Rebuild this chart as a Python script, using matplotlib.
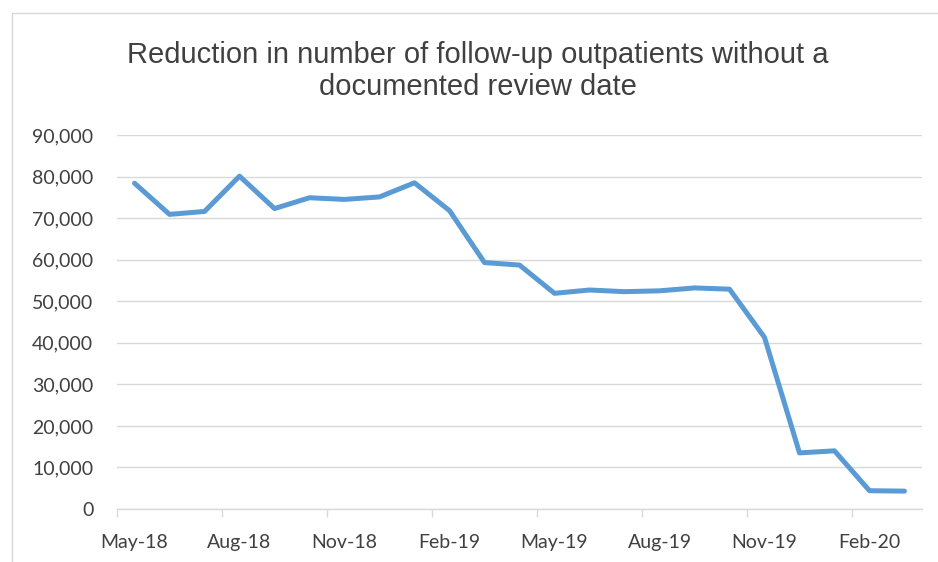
import matplotlib.pyplot as plt
from matplotlib.patches import Rectangle
from matplotlib.ticker import FuncFormatter

months = ['May-18', 'Jun-18', 'Jul-18', 'Aug-18', 'Sep-18', 'Oct-18', 'Nov-18', 'Dec-18',
          'Jan-19', 'Feb-19', 'Mar-19', 'Apr-19', 'May-19', 'Jun-19', 'Jul-19', 'Aug-19',
          'Sep-19', 'Oct-19', 'Nov-19', 'Dec-19', 'Jan-20', 'Feb-20', 'Mar-20']
patients = [78400, 70900, 71600, 80100, 72300, 74900, 74500, 75100,
            78500, 71800, 59300, 58700, 51900, 52700, 52300, 52500,
            53200, 52900, 41300, 13500, 14000, 4400, 4300]
title = 'Reduction in number of follow-up outpatients without a\ndocumented review date'

grid_col = '#D9D9D9'
text_col = '#404040'
tick_font = 'Lato'

fig = plt.figure(figsize=(9.38, 5.62), dpi=100)
# chart area border
fig.patches.append(Rectangle((12 / 938, -0.1), 1.2, 1 - 13 / 562 + 0.1,
                             transform=fig.transFigure, fill=False,
                             edgecolor=grid_col, linewidth=1))

ax = fig.add_axes([117 / 938, 1 - 509 / 562, (922 - 117) / 938, (509 - 135) / 562])
x = list(range(len(months)))
ax.plot(x, patients, color='#5B9BD5', linewidth=3.6, solid_capstyle='round',
        solid_joinstyle='round', zorder=3)

ax.set_xlim(-0.5, len(months) - 0.5)
ax.set_ylim(0, 90000)
ax.set_yticks(range(0, 90001, 10000))
ax.yaxis.set_major_formatter(FuncFormatter(lambda v, p: f'{int(v):,}'))
ax.grid(axis='y', color=grid_col, linewidth=1)
ax.set_axisbelow(True)

# tick marks on category boundaries, labels under every third month
ax.set_xticks([i - 0.5 for i in range(0, len(months), 3)])
ax.set_xticklabels([])
ax.set_xticks(x[::3], minor=True)
ax.set_xticklabels(months[::3], minor=True)
ax.tick_params(axis='x', which='major', length=6, color=grid_col, width=1)
ax.tick_params(axis='x', which='minor', length=0, pad=18)
ax.tick_params(axis='y', length=0, pad=17)
for lab in ax.get_xticklabels(minor=True) + ax.get_yticklabels():
    lab.set_fontfamily(tick_font)
    lab.set_fontsize(14)
    lab.set_color(text_col)

for s in ['top', 'right', 'left']:
    ax.spines[s].set_visible(False)
ax.spines['bottom'].set_color(grid_col)
ax.spines['bottom'].set_linewidth(1)

fig.text(478 / 938, 1 - 71 / 562, title, ha='center', va='center',
         fontsize=21, color='#404040', family='Liberation Sans', linespacing=1.22)

fig.savefig('out.png', dpi=100)
